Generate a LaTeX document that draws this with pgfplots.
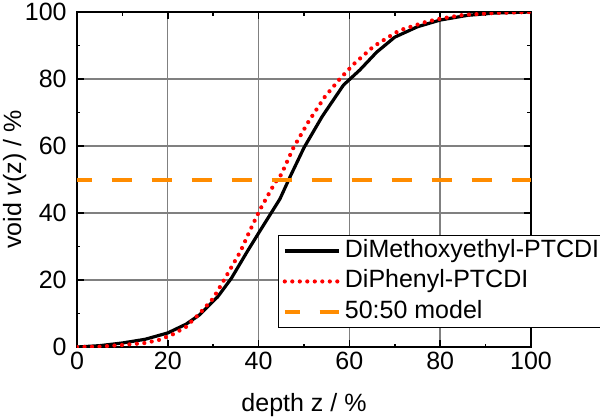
\documentclass[border=0pt]{standalone}
\usepackage{fontspec}
\setmainfont{Liberation Sans}
\usepackage{pgfplots}
\pgfplotsset{compat=1.18}
\definecolor{myorange}{RGB}{255,140,0}
\begin{document}
\begin{tikzpicture}
\begin{axis}[
  scale only axis,
  width=227pt, height=167.5pt,
  xmin=0, xmax=100, ymin=0, ymax=100,
  xtick={0,20,...,100}, ytick={0,20,...,100},
  minor tick num=1,
  tick align=inside,
  major tick length=3.5pt, minor tick length=1.75pt,
  every tick/.style={black, line width=0.8pt},
  axis line style={line width=0.8pt},
  grid=major,
  major grid style={gray, line width=0.7pt},
  font=\fontsize{12.5}{14.5}\selectfont,
  /pgf/number format/assume math mode=true,
  ticklabel style={font=\fontsize{12.5}{14.5}\selectfont},
  xticklabel style={inner ysep=2.3pt},
  yticklabel style={inner xsep=5pt},
  xlabel={depth z / \%},
  ylabel={void \textit{v}(z) / \%},
  xlabel style={at={(axis description cs:0.5,-0.194)}, anchor=base},
  ylabel style={at={(axis description cs:-0.123,0.5)}, anchor=base, rotate=0},
  legend image code/.code={\draw[#1] (0pt,0pt) -- (27pt,0pt);},
  legend style={at={(rel axis cs:0.443,0.334)}, anchor=north west,
    draw=black, line width=0.6pt, fill=white,
    inner xsep=2pt, inner ysep=0pt,
    font=\fontsize{12.5}{14.5}\selectfont,
    nodes={inner xsep=2pt, inner ysep=1.25pt, text height=9.5pt, text depth=3.25pt},
    row sep=0pt},
  legend cell align=left,
]
\addplot[black, line width=1.6pt, line join=round] coordinates {
(0,0) (5,0.4) (10,1.2) (15,2.3) (20,4.2) (24,6.8) (27,9.6) (31,15) (34,20.5)
(37.5,28.5) (40,34) (44.7,44.2) (47,51) (50,59.5) (54,68.8) (58.7,78.2)
(62.3,82.7) (66,88) (70,92.5) (75,95.6) (80,97.6) (86,99) (92,99.7) (100,100)
};
\addlegendentry{DiMethoxyethyl-PTCDI}
\addplot[red, line width=2.1pt, line cap=round, dash pattern=on 0pt off 3.75pt] coordinates {
(0,0) (5,0.1) (10,0.6) (15,1.2) (18,2.1) (21,3.7) (24,6) (27,10) (30,14.5)
(32.6,20.5) (36,28.5) (38,34.5) (40.3,41) (43.6,49) (45,51.5) (47.6,59.3)
(51,67.3) (54.6,74.7) (58,80.2) (61,84.5) (65.3,89.7) (68,92) (71,94.5)
(77,97.1) (80,98) (85,99.1) (92,99.7) (100,100)
};
\addlegendentry{DiPhenyl-PTCDI}
\addplot[myorange, line width=2pt, dash pattern=on 10pt off 10pt, dash phase=2.65pt] coordinates {
(0,50) (100,50)
};
\addlegendentry{50:50 model}
\end{axis}
\pgfresetboundingbox
\path[use as bounding box] (-38.5pt,-35.5pt) rectangle (261.5pt,173.5pt);
\end{tikzpicture}
\end{document}
